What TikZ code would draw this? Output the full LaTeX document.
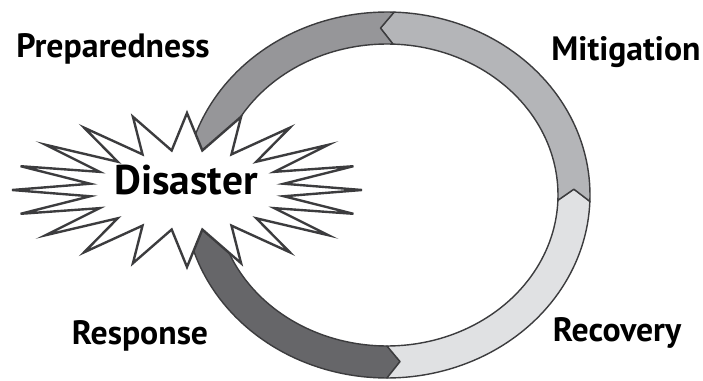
\documentclass[tikz,border=0pt]{standalone}
\usepackage{fontspec}
\setmainfont{PT Sans}
\usepackage{tikz}
\usetikzlibrary{positioning}

\definecolor{prepgray}{HTML}{969699}
\definecolor{mitigray}{HTML}{B4B5B8}
\definecolor{recogray}{HTML}{E0E1E3}
\definecolor{respgray}{HTML}{666669}
\definecolor{edgegray}{HTML}{3C3C3E}

\begin{document}
\begin{tikzpicture}[
    x=0.025cm, y=-0.025cm,
    piece/.style={draw=edgegray, line width=1pt, line join=round},
    burst/.style={draw=edgegray, line width=1.7pt, fill=white, line join=miter},
    phase/.style={font=\bfseries\fontsize{24}{28}\selectfont, anchor=base, inner sep=0pt},
    bigword/.style={font=\bfseries\fontsize{29.5}{33}\selectfont, anchor=base, inner sep=0pt}
]
  \useasboundingbox (0,0) rectangle (703,381);

  % ring: centre line and its inner / outer edges
  \def\ringx{387} \def\ringy{195}
  \def\rxm{187} \def\rym{167}
  \def\rxo{203} \def\ryo{183}
  \def\rxi{171} \def\ryi{151}
  \def\dt{4}

  \foreach \col/\from/\to in {respgray/182/270, recogray/-90/-2, mitigray/-2/88, prepgray/88/178} {
    \filldraw[piece, fill=\col]
      plot[domain=\from:\to, samples=50] ({\ringx+\rxo*cos(\x)}, {\ringy-\ryo*sin(\x)})
      -- ({\ringx+\rxm*cos(\to+\dt)}, {\ringy-\rym*sin(\to+\dt)})
      -- plot[domain=\to:\from, samples=50] ({\ringx+\rxi*cos(\x)}, {\ringy-\ryi*sin(\x)})
      -- ({\ringx+\rxm*cos(\from+\dt)}, {\ringy-\rym*sin(\from+\dt)})
      -- cycle;
  }

  % starburst
  \def\bx{187} \def\by{190}
  \draw[burst] ({\bx+175}, \by)
    \foreach \a in {0,18,...,342} {
      -- ({\bx+98*cos(\a+9)}, {\by-40*sin(\a+9)})
      -- ({\bx+175*cos(\a+18)}, {\by-77*sin(\a+18)})
    } -- cycle;

  \node[bigword] (disaster) at (186, 194) {Disaster};

  \node[phase] (prep) at (113, 58)  {Preparedness};
  \node[phase] (miti) at (626, 61)  {Mitigation};
  \node[phase] (reco) at (617, 341) {Recovery};
  \node[phase] (resp) at (140, 344) {Response};
\end{tikzpicture}
\end{document}
